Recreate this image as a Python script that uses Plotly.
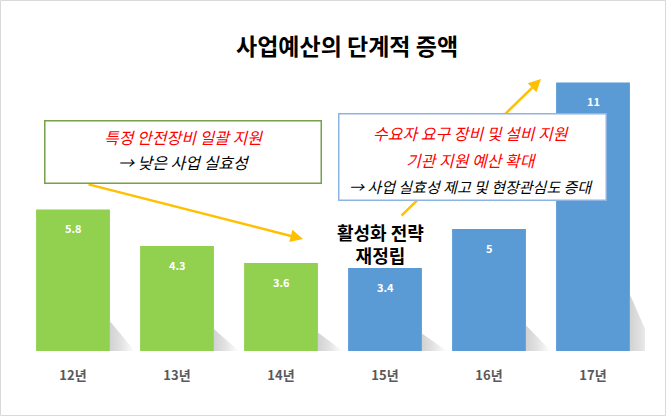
import plotly.graph_objects as go

categories = ["12년", "13년", "14년", "15년", "16년", "17년"]
values = [5.8, 4.3, 3.6, 3.4, 5, 11]
bar_colors = ["#92D050", "#92D050", "#92D050", "#5B9BD5", "#5B9BD5", "#5B9BD5"]
value_labels = ["5.8", "4.3", "3.6", "3.4", "5", "11"]

W, H = 666, 416
L, R, T, B = 21, 21, 58, 65
PW, PH = W - L - R, H - T - B
YMAX = 12
BAR_W = 0.71

def px(X):
    return (X - L) / PW

def py(Y):
    return (H - B - Y) / PH

FONT = "Noto Sans CJK KR"

fig = go.Figure()

# soft shadows at the bottom-right of each bar (decorative)
for i, v in enumerate(values):
    xr = i + BAR_W / 2
    h = v * 0.21
    fig.add_trace(go.Scatter(
        x=[xr, xr, xr + 0.24, xr], y=[0, h, 0, 0], mode="lines",
        line=dict(width=0), fill="toself",
        fillgradient=dict(type="horizontal",
                          colorscale=[[0, "#D2D2D2"], [0.45, "#E2E2E2"], [1, "#FFFFFF"]]),
        hoverinfo="skip", showlegend=False,
    ))

fig.add_trace(go.Bar(
    x=list(range(len(categories))), y=values, marker=dict(color=bar_colors, line=dict(width=0)),
    width=BAR_W, hoverinfo="skip",
))

annotations = []
for i, (v, t) in enumerate(zip(values, value_labels)):
    annotations.append(dict(x=i, y=v, xref="x", yref="y", text="<b>" + t + "</b>", showarrow=False,
                            yanchor="middle", yshift=-19,
                            font=dict(family=FONT, size=11, color="white")))

# arrows (drawn before boxes so boxes cover them)
annotations.append(dict(x=px(303), y=py(239), xref="paper", yref="paper", text="",
                        showarrow=True, ax=87 - 303, ay=184 - 239, axref="pixel", ayref="pixel",
                        arrowcolor="#FFC000", arrowwidth=2.5, arrowhead=2, arrowsize=1))
annotations.append(dict(x=px(541), y=py(79), xref="paper", yref="paper", text="",
                        showarrow=True, ax=400 - 541, ay=217 - 79, axref="pixel", ayref="pixel",
                        arrowcolor="#FFC000", arrowwidth=2.5, arrowhead=2, arrowsize=1))

# boxes
def box(x0, y0, x1, y1, border):
    return dict(x=px((x0 + x1) / 2), y=py((y0 + y1) / 2), xref="paper", yref="paper",
                text="&nbsp;", showarrow=False, width=x1 - x0 - 2, height=y1 - y0 - 2,
                borderpad=0, bgcolor="white", bordercolor=border, borderwidth=1.5,
                xanchor="center", yanchor="middle")

annotations.append(box(44, 120, 321, 183, "#77A04A"))
annotations.append(box(338, 113, 606, 200, "#8EB4E3"))

def txt(X, Y, text, size=14, color="black", bold=False, italic=True):
    s = text
    if italic:
        s = "<i>" + s + "</i>"
    if bold:
        s = "<b>" + s + "</b>"
    return dict(x=px(X), y=py(Y), xref="paper", yref="paper", text=s, showarrow=False,
                xanchor="center", yanchor="middle",
                font=dict(family=FONT, size=size, color=color))

annotations.append(txt(183, 137, "특정 안전장비 일괄 지원", 16, "#FF0000"))
annotations.append(txt(184, 162, "→ 낮은 사업 실효성", 16, "black"))
annotations.append(txt(471, 133, "수요자 요구 장비 및 설비 지원", 16, "#FF0000"))
annotations.append(txt(471, 160, "기관 지원 예산 확대", 16, "#FF0000"))
annotations.append(txt(471, 186, "→ 사업 실효성 제고 및 현장관심도 증대", 15, "black"))
annotations.append(txt(381, 243, "활성화 전략<br>재정립", 18, "black", bold=True, italic=False))

# title
annotations.append(dict(x=px(347), y=py(45), xref="paper", yref="paper",
                        text="<b>사업예산의 단계적 증액</b>", showarrow=False,
                        xanchor="center", yanchor="middle",
                        font=dict(family=FONT, size=23, color="black")))

shapes = [dict(type="rect", xref="paper", yref="paper",
               x0=px(0.5), x1=px(665.5), y0=py(415.5), y1=py(0.5),
               line=dict(color="#D9D9D9", width=1), fillcolor="rgba(0,0,0,0)", layer="below")]

fig.update_layout(
    width=W, height=H, margin=dict(l=L, r=R, t=T, b=B),
    paper_bgcolor="white", plot_bgcolor="white",
    showlegend=False,
    xaxis=dict(range=[-0.5, 5.5], showgrid=False, zeroline=False, showline=False,
               tickmode="array", tickvals=list(range(len(categories))),
               ticktext=["<b>" + c + "</b>" for c in categories],
               ticks="outside", ticklen=12, tickcolor="rgba(0,0,0,0)",
               tickfont=dict(family=FONT, size=13, color="#595959")),
    yaxis=dict(range=[0, YMAX], visible=False),
    annotations=annotations, shapes=shapes,
)

fig.write_html("out.html")
